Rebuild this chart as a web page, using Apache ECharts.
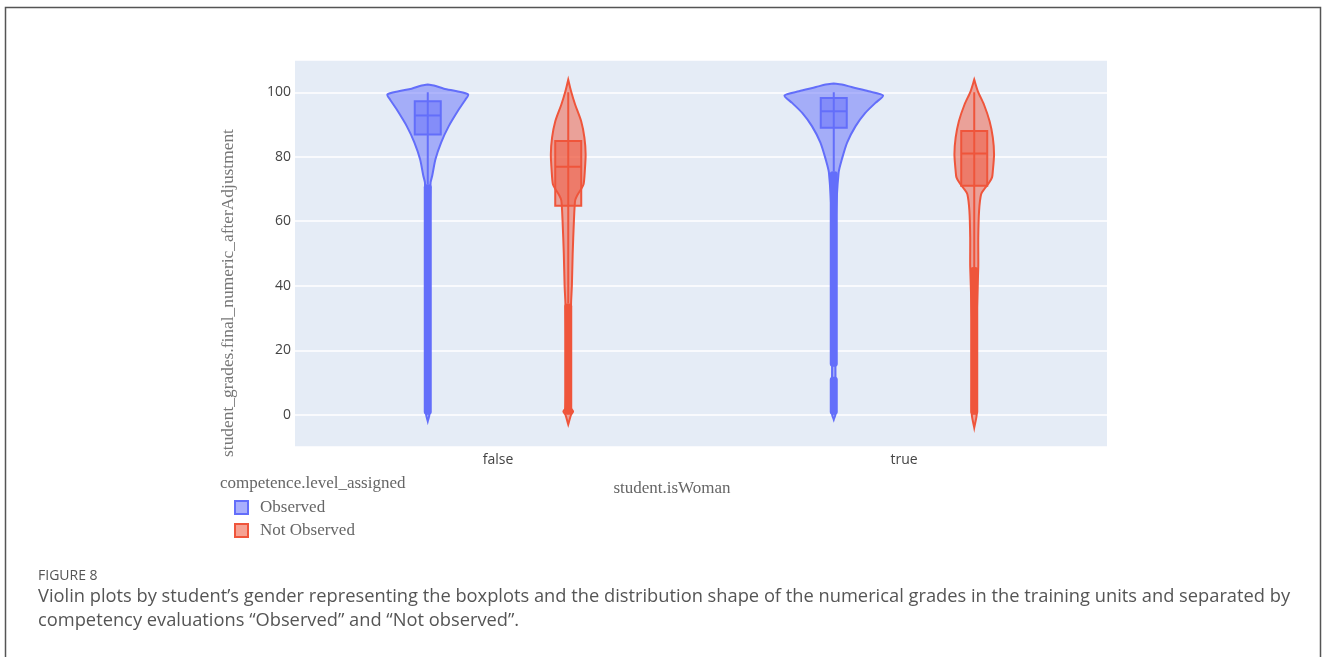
<!DOCTYPE html>
<html>
<head>
<meta charset="utf-8">
<script src="https://cdn.jsdelivr.net/npm/echarts@6.0.0/dist/echarts.min.js"></script>
<style>
  html, body { margin: 0; padding: 0; background: #fff; }
  #chart { width: 1328px; height: 657px; }
</style>
</head>
<body>
<div id="chart"></div>
<script>
const categories = ['false', 'true'];
const seriesNames = ['Observed', 'Not Observed'];

// violin outlines: grade and relative density (1 = widest part of false / Observed)
const obsFalseGrade   = [-2, 0, 20, 40, 60, 72, 74.1, 79.2, 84.4, 89.5, 94.7, 97.7, 99.3, 100.3, 101.1, 102.1, 102.4];
const obsFalseDensity = [0, .04, .04, .04, .05, .07, .11, .19, .33, .52, .77, .93, 1.0, .72, .40, .15, 0];
const obsTrueGrade    = [-1.5, 0, 20, 40, 60, 75.1, 79.2, 84.4, 89.5, 93.6, 96.7, 99, 100.3, 101.6, 102.4, 102.7];
const obsTrueDensity  = [0, .04, .04, .04, .05, .12, .2, .33, .54, .78, 1.03, 1.22, .86, .44, .2, 0];
const notFalseGrade   = [-3, 0, 1, 2, 10, 20, 34.5, 40, 50, 60, 66.4, 68, 70, 71.5, 75.6, 80.8, 85.9, 91, 96.2, 100.3, 103.9];
const notFalseDensity = [0, .07, .12, .07, .05, .05, .07, .09, .11, .14, .17, .22, .32, .38, .41, .43, .40, .32, .17, .07, 0];
const notTrueGrade    = [-4, 0, 10, 20, 30, 45.8, 55, 63.3, 68.4, 70, 72, 73.6, 75.6, 80.8, 85.9, 91, 96.2, 100.3, 103.9];
const notTrueDensity  = [0, .06, .06, .06, .06, .10, .10, .12, .17, .25, .37, .44, .46, .49, .46, .38, .24, .09, 0];

// box stats: lower fence, q1, median, q3, upper fence
const obsFalseBox = [71.5, 86.9, 92.8, 97.2, 100];
const obsTrueBox  = [75.5, 89.0, 94.1, 98.2, 100];
const notFalseBox = [34.5, 64.8, 76.9, 84.9, 100];
const notTrueBox  = [45.8, 71.0, 81.0, 88.0, 100];

// grade ranges covered by the plotted outlier points
const obsFalsePoints = [[0, 71.5]];
const obsTruePoints  = [[0, 11.8], [14.9, 75.5]];
const notFalsePoints = [[0, 34.5]];
const notTruePoints  = [[0, 45.8]];

const yTicks = [0, 20, 40, 60, 80, 100];

const BLUE = '#636efa';
const RED = '#ef553b';

function violinSeries(name, side, color, fill, grades, densities, boxes, points) {
  return {
    name: name,
    type: 'custom',
    itemStyle: { color: fill, borderColor: color },
    data: categories.map((c, i) => [i, 0]),
    encode: { x: 0, y: 1 },
    renderItem: function (params, api) {
      const i = params.dataIndex;
      const ci = api.value(0);
      const band = api.size([1, 0])[0];
      const cx = api.coord([ci, 0])[0] + side * band * 0.173;
      const scale = band * 0.0996;
      const g = grades[i], d = densities[i];
      const right = [], left = [];
      for (let k = 0; k < g.length; k++) {
        const y = api.coord([ci, g[k]])[1];
        right.push([cx + d[k] * scale, y]);
        left.unshift([cx - d[k] * scale, y]);
      }
      const children = [{
        type: 'polygon',
        shape: { points: right.concat(left), smooth: 0.25 },
        style: { fill: fill, stroke: color, lineWidth: 2 }
      }];
      const b = boxes[i];
      const yv = b.map(v => api.coord([ci, v])[1]);
      const bw = 13;
      children.push({
        type: 'line',
        shape: { x1: cx, y1: yv[0], x2: cx, y2: yv[4] },
        style: { stroke: color, lineWidth: 2 }
      });
      children.push({
        type: 'rect',
        shape: { x: cx - bw, y: yv[3], width: 2 * bw, height: yv[1] - yv[3] },
        style: { fill: fill, stroke: color, lineWidth: 2 }
      });
      children.push({
        type: 'line',
        shape: { x1: cx - bw, y1: yv[2], x2: cx + bw, y2: yv[2] },
        style: { stroke: color, lineWidth: 2 }
      });
      points[i].forEach(function (r) {
        const y0 = api.coord([ci, r[0]])[1];
        const y1 = api.coord([ci, r[1]])[1];
        children.push({
          type: 'rect',
          shape: { x: cx - 4, y: y1, width: 8, height: y0 - y1, r: 3 },
          style: { fill: color }
        });
      });
      return { type: 'group', children: children };
    }
  };
}

const chart = echarts.init(document.getElementById('chart'));

const serif = 'Liberation Serif';
const sans = 'Open Sans';

chart.setOption({
  animation: false,
  grid: {
    left: 295, right: 221, top: 60, bottom: 210,
    show: true, backgroundColor: '#e5ecf6', borderWidth: 0
  },
  xAxis: {
    type: 'category',
    data: categories,
    axisLine: { show: false },
    axisTick: { show: false },
    axisLabel: { color: '#444', fontFamily: sans, fontSize: 14, margin: 6 },
    splitLine: { show: false }
  },
  yAxis: {
    type: 'value',
    min: -10,
    max: 110,
    splitNumber: 6,
    axisLine: { show: false },
    axisTick: { show: false },
    showMinLabel: false,
    showMaxLabel: false,
    axisLabel: {
      color: '#444', fontFamily: sans, fontSize: 14, margin: 4,
      formatter: v => (yTicks.indexOf(v) >= 0 ? String(v) : '')
    },
    splitLine: { lineStyle: { color: '#ffffff', width: 1.5 } }
  },
  legend: {
    orient: 'vertical',
    left: 229,
    top: 494,
    icon: 'rect',
    itemWidth: 13,
    itemHeight: 13,
    itemGap: 6,
    textStyle: { fontFamily: serif, fontSize: 17, color: '#666', padding: [0, 0, 0, 7] },
    data: [
      { name: 'Observed', itemStyle: { color: 'rgba(99,110,250,0.55)', borderColor: BLUE, borderWidth: 2 } },
      { name: 'Not Observed', itemStyle: { color: 'rgba(239,85,59,0.55)', borderColor: RED, borderWidth: 2 } }
    ]
  },
  graphic: [
    {
      type: 'rect', silent: true,
      shape: { x: 5.5, y: 7.5, width: 1315, height: 700 },
      style: { fill: 'none', stroke: '#555', lineWidth: 1.5 }
    },
    {
      type: 'text', x: 228, y: 293, rotation: Math.PI / 2,
      style: { text: 'student_grades.final_numeric_afterAdjustment', font: '17.4px "Liberation Serif"', fill: '#777', align: 'center', verticalAlign: 'middle' }
    },
    {
      type: 'text', x: 672, y: 489,
      style: { text: 'student.isWoman', font: '17px "Liberation Serif"', fill: '#666', align: 'center', verticalAlign: 'middle' }
    },
    {
      type: 'text', x: 220, y: 484,
      style: { text: 'competence.level_assigned', font: '17px "Liberation Serif"', fill: '#666', align: 'left', verticalAlign: 'middle' }
    },
    {
      type: 'text', x: 38, y: 576,
      style: { text: 'FIGURE 8', font: '14px "Open Sans"', fill: '#555', align: 'left', verticalAlign: 'middle' }
    },
    {
      type: 'text', x: 38, y: 597,
      style: { text: 'Violin plots by student\u2019s gender representing the boxplots and the distribution shape of the numerical grades in the training units and separated by', font: '18.3px "Open Sans"', fill: '#555', align: 'left', verticalAlign: 'middle' }
    },
    {
      type: 'text', x: 38, y: 621,
      style: { text: 'competency evaluations \u201cObserved\u201d and \u201cNot observed\u201d.', font: '18.3px "Open Sans"', fill: '#555', align: 'left', verticalAlign: 'middle' }
    }
  ],
  series: [
    violinSeries(seriesNames[0], -1, BLUE, 'rgba(99,110,250,0.5)',
      [obsFalseGrade, obsTrueGrade], [obsFalseDensity, obsTrueDensity],
      [obsFalseBox, obsTrueBox], [obsFalsePoints, obsTruePoints]),
    violinSeries(seriesNames[1], 1, RED, 'rgba(239,85,59,0.5)',
      [notFalseGrade, notTrueGrade], [notFalseDensity, notTrueDensity],
      [notFalseBox, notTrueBox], [notFalsePoints, notTruePoints])
  ]
});
</script>
</body>
</html>
